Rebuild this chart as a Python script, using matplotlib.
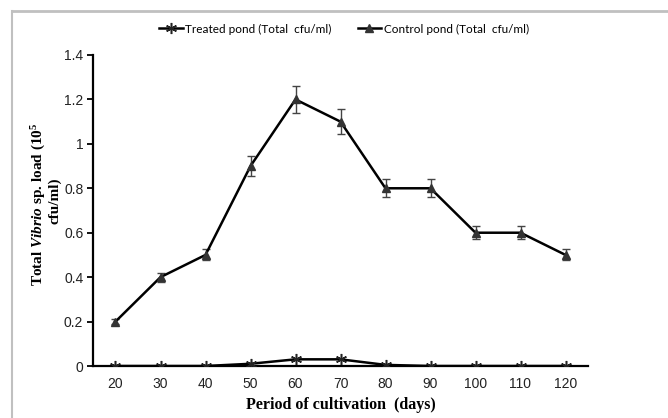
import matplotlib
matplotlib.use("Agg")
import matplotlib.pyplot as plt
from matplotlib.lines import Line2D

days = [20, 30, 40, 50, 60, 70, 80, 90, 100, 110, 120]
treated = [0, 0, 0, 0.01, 0.03, 0.03, 0.005, 0, 0, 0, 0]
control = [0.2, 0.4, 0.5, 0.9, 1.2, 1.1, 0.8, 0.8, 0.6, 0.6, 0.5]
control_err = [0.01, 0.02, 0.025, 0.045, 0.06, 0.055, 0.04, 0.04, 0.03, 0.03, 0.025]
yticks = [0, 0.2, 0.4, 0.6, 0.8, 1, 1.2, 1.4]
ytick_labels = ["0", "0.2", "0.4", "0.6", "0.8", "1", "1.2", "1.4"]

plt.rcParams['mathtext.fontset'] = 'custom'
plt.rcParams['mathtext.rm'] = 'Liberation Serif:bold'
plt.rcParams['mathtext.bf'] = 'Liberation Serif:bold'
plt.rcParams['mathtext.it'] = 'Liberation Serif:italic:bold'

fig = plt.figure(figsize=(6.68, 4.18), dpi=100)
ax = fig.add_axes([93/668, 1-366/418, (588-93)/668, (366-55)/418])

# gray frame lines
fig.add_artist(Line2D([12/668, 1], [1-11/418, 1-11/418], color='#c0c0c0', lw=2))
fig.add_artist(Line2D([12/668, 12/668], [0, 1-11/418], color='#c0c0c0', lw=1.5))

ax.errorbar(days, control, yerr=control_err, fmt='none', ecolor='#444444',
            elinewidth=1, capsize=3, capthick=1, zorder=2)
ax.plot(days, control, color='black', lw=1.8, marker='^', ms=6,
        mfc='#333333', mec='#333333', zorder=3, label='Control pond (Total  cfu/ml)')
ax.plot(days, treated, color='black', lw=1.8, marker=(6, 2, 0), ms=8,
        mec='#222222', mew=1.1, zorder=4, label='Treated pond (Total  cfu/ml)')

ax.set_xlim(15, 125)
ax.set_ylim(0, 1.4)
ax.set_xticks(days)
ax.set_xticklabels([str(d) for d in days], fontsize=10, family='Liberation Sans', color='#222222')
ax.set_yticks(yticks)
ax.set_yticklabels(ytick_labels, fontsize=10, family='Liberation Sans', color='#222222')
ax.tick_params(axis='x', length=0, pad=8)
ax.tick_params(axis='y', length=4, width=1.3, direction='out', pad=3)

for s in ['top', 'right']:
    ax.spines[s].set_visible(False)
ax.spines['left'].set_linewidth(1.6)
ax.spines['bottom'].set_linewidth(1.6)

ax.set_xlabel('Period of cultivation  (days)', fontsize=11.5, family='Liberation Serif',
              fontweight='bold', labelpad=4)
fig.text(39/668, 1-204/418, 'Total $\\mathit{Vibrio}$ sp. load (10$^{5}$',
         rotation=90, ha='center', va='center', fontsize=11, family='Liberation Serif',
         fontweight='bold')
fig.text(55/668, 1-201/418, 'cfu/ml)',
         rotation=90, ha='center', va='center', fontsize=11, family='Liberation Serif',
         fontweight='bold')

h, l = ax.get_legend_handles_labels()
leg = fig.legend([h[1], h[0]], [l[1], l[0]], loc='center', bbox_to_anchor=(344/668, 1-29/418),
                 ncol=2, frameon=False, prop={'family': 'Lato', 'size': 8.5},
                 handlelength=2.0, columnspacing=2.2, handletextpad=0.2)

fig.savefig('out.png', dpi=100)
